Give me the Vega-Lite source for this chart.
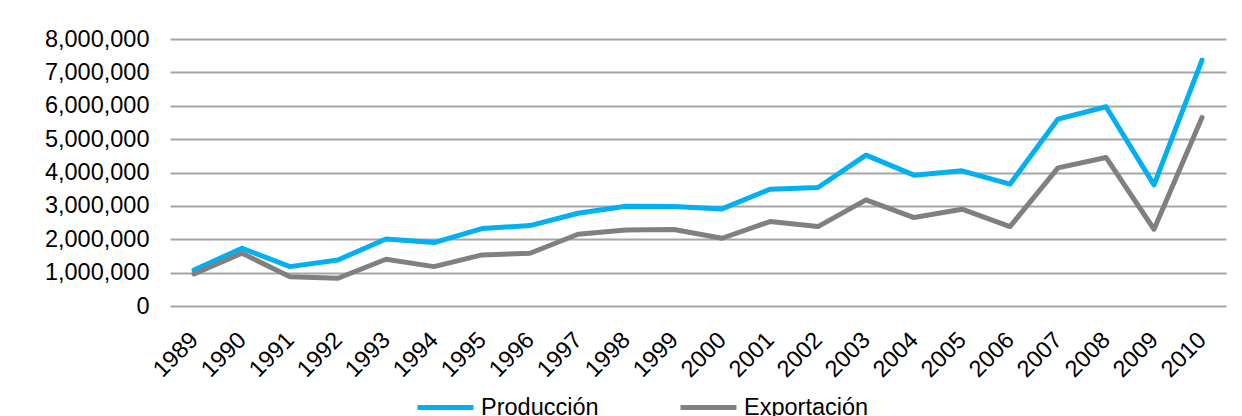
{
  "$schema": "https://vega.github.io/schema/vega-lite/v6.json",
  "width": 1056,
  "height": 267,
  "autosize": {"type": "none"},
  "padding": {"left": 170, "top": 39, "right": 16, "bottom": 110},
  "background": "#ffffff",
  "config": {
    "font": "Liberation Sans",
    "view": {"stroke": null},
    "axis": {"labelFont": "Liberation Sans", "labelFontSize": 23.5, "labelColor": "#000000"}
  },
  "data": {
    "values": [
      {"year": "1989", "serie": "Producción", "value": 1080000},
      {"year": "1990", "serie": "Producción", "value": 1730000},
      {"year": "1991", "serie": "Producción", "value": 1180000},
      {"year": "1992", "serie": "Producción", "value": 1380000},
      {"year": "1993", "serie": "Producción", "value": 2010000},
      {"year": "1994", "serie": "Producción", "value": 1900000},
      {"year": "1995", "serie": "Producción", "value": 2320000},
      {"year": "1996", "serie": "Producción", "value": 2410000},
      {"year": "1997", "serie": "Producción", "value": 2780000},
      {"year": "1998", "serie": "Producción", "value": 2990000},
      {"year": "1999", "serie": "Producción", "value": 2980000},
      {"year": "2000", "serie": "Producción", "value": 2910000},
      {"year": "2001", "serie": "Producción", "value": 3500000},
      {"year": "2002", "serie": "Producción", "value": 3550000},
      {"year": "2003", "serie": "Producción", "value": 4520000},
      {"year": "2004", "serie": "Producción", "value": 3920000},
      {"year": "2005", "serie": "Producción", "value": 4050000},
      {"year": "2006", "serie": "Producción", "value": 3650000},
      {"year": "2007", "serie": "Producción", "value": 5600000},
      {"year": "2008", "serie": "Producción", "value": 5970000},
      {"year": "2009", "serie": "Producción", "value": 3630000},
      {"year": "2010", "serie": "Producción", "value": 7370000},
      {"year": "1989", "serie": "Exportación", "value": 960000},
      {"year": "1990", "serie": "Exportación", "value": 1580000},
      {"year": "1991", "serie": "Exportación", "value": 880000},
      {"year": "1992", "serie": "Exportación", "value": 830000},
      {"year": "1993", "serie": "Exportación", "value": 1400000},
      {"year": "1994", "serie": "Exportación", "value": 1180000},
      {"year": "1995", "serie": "Exportación", "value": 1530000},
      {"year": "1996", "serie": "Exportación", "value": 1580000},
      {"year": "1997", "serie": "Exportación", "value": 2150000},
      {"year": "1998", "serie": "Exportación", "value": 2280000},
      {"year": "1999", "serie": "Exportación", "value": 2290000},
      {"year": "2000", "serie": "Exportación", "value": 2030000},
      {"year": "2001", "serie": "Exportación", "value": 2530000},
      {"year": "2002", "serie": "Exportación", "value": 2380000},
      {"year": "2003", "serie": "Exportación", "value": 3180000},
      {"year": "2004", "serie": "Exportación", "value": 2650000},
      {"year": "2005", "serie": "Exportación", "value": 2900000},
      {"year": "2006", "serie": "Exportación", "value": 2380000},
      {"year": "2007", "serie": "Exportación", "value": 4140000},
      {"year": "2008", "serie": "Exportación", "value": 4450000},
      {"year": "2009", "serie": "Exportación", "value": 2300000},
      {"year": "2010", "serie": "Exportación", "value": 5650000}
    ]
  },
  "mark": {"type": "line", "strokeWidth": 5, "strokeCap": "round", "strokeJoin": "round"},
  "encoding": {
    "x": {
      "field": "year",
      "type": "ordinal",
      "scale": {"type": "point", "padding": 0.5},
      "axis": {
        "title": null,
        "labelAngle": -45,
        "labelAlign": "right",
        "labelBaseline": "middle",
        "labelPadding": 30,
        "ticks": false,
        "domain": false,
        "grid": false
      }
    },
    "y": {
      "field": "value",
      "type": "quantitative",
      "scale": {"domain": [0, 8000000], "nice": false},
      "axis": {
        "title": null,
        "values": [0, 1000000, 2000000, 3000000, 4000000, 5000000, 6000000, 7000000, 8000000],
        "format": ",d",
        "ticks": false,
        "domain": false,
        "labelPadding": 21,
        "grid": true,
        "gridColor": "#a6a6a6",
        "gridWidth": 2
      }
    },
    "color": {
      "field": "serie",
      "type": "nominal",
      "sort": ["Producción", "Exportación"],
      "scale": {"domain": ["Producción", "Exportación"], "range": ["#00b0f0", "#808080"]},
      "legend": {
        "title": null,
        "orient": "none",
        "direction": "horizontal",
        "legendX": 245,
        "legendY": 338,
        "symbolType": "stroke",
        "symbolSize": 3136,
        "symbolStrokeWidth": 5,
        "labelFont": "Liberation Sans",
        "labelFontSize": 23.5,
        "labelColor": "#000000",
        "labelOffset": 5,
        "columnPadding": 71
      }
    }
  }
}
